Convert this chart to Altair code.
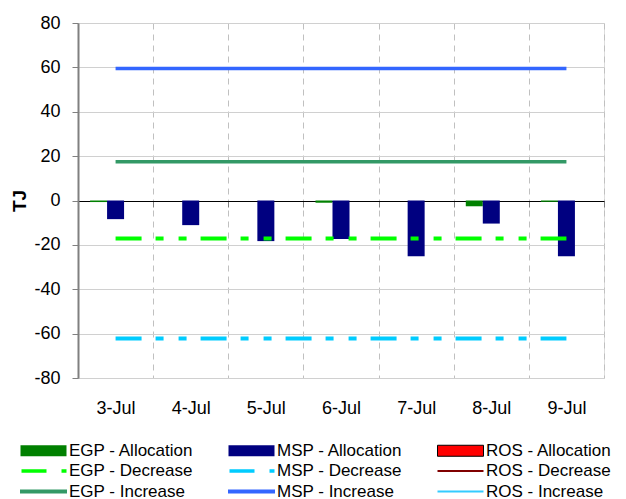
import altair as alt
import pandas as pd

dates = ["3-Jul", "4-Jul", "5-Jul", "6-Jul", "7-Jul", "8-Jul", "9-Jul"]
groups = ["EGP", "MSP", "ROS"]

egp_allocation = [-0.7, 0.0, 0.0, -1.0, 0.0, -2.6, -0.6]
msp_allocation = [-8.4, -11.1, -18.3, -17.4, -25.1, -10.4, -25.1]
ros_allocation = [0.0, 0.0, 0.0, 0.0, 0.0, 0.0, 0.0]

egp_decrease = [-17.1, -17.1, -17.1, -17.1, -17.1, -17.1, -17.1]
msp_decrease = [-62.2, -62.2, -62.2, -62.2, -62.2, -62.2, -62.2]
egp_increase = [17.5, 17.5, 17.5, 17.5, 17.5, 17.5, 17.5]
msp_increase = [59.5, 59.5, 59.5, 59.5, 59.5, 59.5, 59.5]

legend_names = [
    "EGP - Allocation", "MSP - Allocation", "ROS - Allocation",
    "EGP - Decrease", "MSP - Decrease", "ROS - Decrease",
    "EGP - Increase", "MSP - Increase", "ROS - Increase",
]
legend_colors = [
    "#008000", "#000080", "#FF0000",
    "#00FF00", "#00CCFF", "#800000",
    "#339966", "#3366FF", "#33CCFF",
]

FONT = "Liberation Sans"

# ---- data frames
bar_rows = []
for g, vals in zip(groups, [egp_allocation, msp_allocation, ros_allocation]):
    for d, v in zip(dates, vals):
        bar_rows.append({"date": d, "group": g, "series": g + " - Allocation", "value": v})
bars_df = pd.DataFrame(bar_rows)

line_rows = []
for name, vals, kind in [
    ("EGP - Decrease", egp_decrease, "dec"),
    ("MSP - Decrease", msp_decrease, "dec"),
    ("EGP - Increase", egp_increase, "inc"),
    ("MSP - Increase", msp_increase, "inc"),
]:
    for d, v in zip(dates, vals):
        line_rows.append({"date": d, "series": name, "kind": kind, "value": v})
lines_df = pd.DataFrame(line_rows)

legend_df = pd.DataFrame({"series": legend_names})

# ---- scales
x_scale = alt.Scale(domain=dates, paddingInner=0, paddingOuter=0)
y_scale = alt.Scale(domain=[-80, 80], nice=False)
fill_scale = alt.Scale(domain=legend_names[:3], range=legend_colors[:3])
line_names = ["EGP - Decrease", "MSP - Decrease", "EGP - Increase", "MSP - Increase"]
line_colors = ["#00FF00", "#00CCFF", "#339966", "#3366FF"]
stroke_scale = alt.Scale(domain=line_names, range=line_colors)

y_axis = alt.Axis(
    values=[-80, -60, -40, -20, 0, 20, 40, 60, 80],
    labelExpr="'' + datum.value",
    grid=True, gridColor="#d0d0d0", gridWidth=1,
    domainColor="#808080", domainWidth=2,
    tickColor="#808080", tickSize=6, tickWidth=1,
    labelFontSize=18, labelPadding=12, labelColor="#000000", labelFont=FONT,
    title="TJ", titleFontSize=19, titleFontWeight="bold", titleFont=FONT,
    titleColor="#000000", titleAngle=270, titlePadding=4,
)

x_axis_labels = alt.Axis(
    orient="bottom", title=None, labelAngle=0, labelFontSize=18,
    labelFont=FONT, labelColor="#000000", labelPadding=21,
    ticks=False, domain=False, grid=True, tickBand="extent",
    gridColor="#c0c0c0", gridDash=[6, 5], gridWidth=1,
)

x_axis_zero = alt.Axis(
    orient="bottom", title=None, labels=False, offset=-177,
    ticks=True, tickSize=6, tickColor="#808080", tickBand="extent",
    domain=True, domainColor="#000000", domainWidth=1.2, grid=False,
)

bars = alt.Chart(bars_df).mark_bar().encode(
    x=alt.X("date:N", scale=x_scale, axis=x_axis_labels, sort=dates),
    xOffset=alt.XOffset("group:N", scale=alt.Scale(domain=groups, paddingInner=0, paddingOuter=0.71)),
    y=alt.Y("value:Q", scale=y_scale, axis=y_axis),
    fill=alt.Fill("series:N", scale=fill_scale, legend=None),
)

dec_lines = alt.Chart(lines_df).transform_filter(alt.datum.kind == "dec").mark_line(
    strokeWidth=4, strokeDash=[26, 14, 8, 15, 8, 14]
).encode(
    x=alt.X("date:N", scale=x_scale, axis=x_axis_zero, sort=dates),
    y=alt.Y("value:Q", scale=y_scale),
    stroke=alt.Stroke("series:N", scale=stroke_scale, legend=None),
    detail="series:N",
)

inc_lines = alt.Chart(lines_df).transform_filter(alt.datum.kind == "inc").mark_line(
    strokeWidth=3.5
).encode(
    x=alt.X("date:N", scale=x_scale, axis=None, sort=dates),
    y=alt.Y("value:Q", scale=y_scale),
    stroke=alt.Stroke("series:N", scale=stroke_scale, legend=None),
    detail="series:N",
)

# legend symbols as custom paths (unit = 5px with size 100)
p_alloc = "M-1,-1.1H8.2V1.1H-1Z"
p_dec = "M-0.8,-0.35H4.2V0.35H-0.8Z M7.2,-0.35H8.2V0.35H7.2Z"
p_inc = "M-1.1,-0.4H8.3V0.4H-1.1Z"
p_thin1 = "M-1,-0.18H8.2V0.18H-1Z"
p_thin2 = "M-1,-0.18H8.2V0.18H-1Z"
legend_shapes = [p_alloc, p_alloc, p_alloc, p_dec, p_dec, p_thin1, p_inc, p_inc, p_thin2]
legend_strokes = [0, 0, 1, 0, 0, 0, 0, 0, 0]

legend_layer = alt.Chart(legend_df).transform_filter("false").mark_point(
    filled=True, size=100, opacity=1, stroke="#000000"
).encode(
    color=alt.Color(
        "series:N",
        sort=legend_names,
        scale=alt.Scale(domain=legend_names, range=legend_colors),
        legend=alt.Legend(
            title=None, orient="none", legendX=-61, legendY=419,
            direction="horizontal",
            columns=3, columnPadding=31, rowPadding=2.5,
            labelFontSize=17, labelFont=FONT, labelColor="#000000",
            labelOffset=35, symbolSize=100, symbolStrokeColor="#000000",
            labelLimit=300,
        ),
    ),
    shape=alt.Shape("series:N", sort=legend_names,
                    scale=alt.Scale(domain=legend_names, range=legend_shapes)),
    strokeWidth=alt.StrokeWidth(
        "series:O", sort=legend_names,
        scale=alt.Scale(type="ordinal", domain=legend_names, range=legend_strokes),
    ),
)

chart = alt.layer(bars, dec_lines, inc_lines, legend_layer).resolve_axis(
    x="independent"
).properties(
    width=526, height=355,
    autosize=alt.AutoSizeParams(type="none"),
    padding={"left": 70, "top": 15, "right": 14, "bottom": 121},
).configure_view(strokeWidth=0).configure(font=FONT)

chart.save("out.html", embed_options={"renderer": "svg", "actions": False})
